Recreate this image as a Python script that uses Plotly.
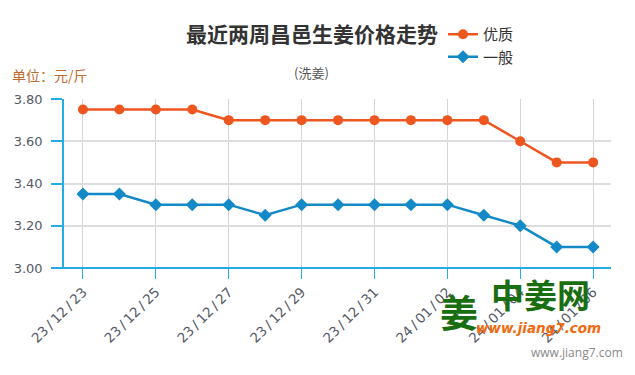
import plotly.graph_objects as go

dates = ["23/12/23", "23/12/24", "23/12/25", "23/12/26", "23/12/27", "23/12/28", "23/12/29",
         "23/12/30", "23/12/31", "24/01/01", "24/01/02", "24/01/03", "24/01/04", "24/01/05", "24/01/06"]
premium = [3.75, 3.75, 3.75, 3.75, 3.70, 3.70, 3.70, 3.70, 3.70, 3.70, 3.70, 3.70, 3.60, 3.50, 3.50]
ordinary = [3.35, 3.35, 3.30, 3.30, 3.30, 3.25, 3.30, 3.30, 3.30, 3.30, 3.30, 3.25, 3.20, 3.10, 3.10]
y_ticks = [3.0, 3.2, 3.4, 3.6, 3.8]

idx = list(range(len(dates)))
tick_idx = idx[::2]
TS = "\u2009"
tick_txt = [dates[i].replace("/", TS + "/" + TS) for i in tick_idx]

ORANGE = "#ee5620"
BLUE = "#1489c8"
AXIS = "#25ade3"
FONT = "Noto Sans CJK SC, Open Sans, sans-serif"
TICKFONT = "DejaVu Sans, sans-serif"
OFF = 8  # page body offset

fig = go.Figure()
fig.add_trace(go.Scatter(x=idx, y=premium, name="优质", mode="lines+markers",
                         line=dict(color=ORANGE, width=2.5),
                         marker=dict(symbol="circle", size=10, color=ORANGE)))
fig.add_trace(go.Scatter(x=idx, y=ordinary, name="一般", mode="lines+markers",
                         line=dict(color=BLUE, width=2.5),
                         marker=dict(symbol="diamond", size=10, color=BLUE)))

fig.update_layout(
    width=635, height=375,
    margin=dict(l=64 - OFF, r=24 + OFF, t=99 - OFF, b=107 + OFF, autoexpand=False),
    paper_bgcolor="white", plot_bgcolor="white",
    font=dict(family=FONT, color="#555555"),
    showlegend=True,
    legend=dict(x=(443 - OFF) / 635, y=1 - (18 - OFF) / 375, xanchor="left", yanchor="top",
                xref="container", yref="container",
                font=dict(size=15, color="#333333"), bgcolor="rgba(0,0,0,0)",
                itemwidth=30, tracegroupgap=0),
    title=dict(text="<b>最近两周昌邑生姜价格走势</b>", x=(312 - OFF) / 635, xanchor="center",
               y=1 - (35 - OFF) / 375, yanchor="middle", xref="container", yref="container",
               font=dict(size=21, color="#333333", family=FONT)),
    xaxis=dict(range=[-0.52, 14.49], tickmode="array", tickvals=tick_idx, ticktext=tick_txt,
               tickangle=-45, showgrid=True, gridcolor="#d4d4d4", gridwidth=1,
               showline=False, zeroline=False, ticks="outside", ticklen=10,
               tickcolor=AXIS, tickwidth=1,
               tickfont=dict(size=13.5, color="#555a66", family=TICKFONT)),
    yaxis=dict(range=[3.0, 3.8], tickmode="array", tickvals=y_ticks,
               ticktext=[f"{v:.2f}" for v in y_ticks],
               showgrid=True, gridcolor="#dddddd", gridwidth=1.5,
               showline=True, linecolor=AXIS, linewidth=1.5, zeroline=False,
               ticks="outside", ticklen=11, tickcolor=AXIS, tickwidth=1.5,
               ticklabelstandoff=6,
               tickfont=dict(size=13, color="#555a66", family=TICKFONT)),
)

# x axis baseline extending to the left of the y axis
fig.add_shape(type="line", xref="paper", yref="paper", x0=-11 / 547, x1=1.0, y0=0, y1=0,
              line=dict(color=AXIS, width=2), layer="above")

fig.add_annotation(text="(洗姜)", xref="paper", yref="paper", x=(311 - 64) / 547,
                   y=1 + (99 - 72) / 169, showarrow=False, xanchor="center", yanchor="middle",
                   font=dict(size=13, color="#555555"))
fig.add_annotation(text="单位：元/斤", xref="paper", yref="paper", x=(10 - 64) / 547,
                   y=1 + (99 - 75) / 169, showarrow=False, xanchor="left", yanchor="middle",
                   font=dict(size=14, color="#c06a2c"))

# watermark logo
fig.add_annotation(text="<b>姜</b>", xref="paper", yref="paper", x=(459 - 64) / 547,
                   y=-(310 - 268) / 169, showarrow=False, xanchor="center", yanchor="middle",
                   font=dict(size=38, color="#1a6e12"))
fig.add_annotation(text="<b>中姜网</b>", xref="paper", yref="paper", x=(540 - 64) / 547,
                   y=-(294 - 268) / 169, showarrow=False, xanchor="center", yanchor="middle",
                   font=dict(size=33, color="#1a6e12"))
fig.add_annotation(text="<b><i>www.jiang7.com</i></b>", xref="paper", yref="paper",
                   x=(538 - 64) / 547, y=-(328 - 268) / 169, showarrow=False,
                   xanchor="center", yanchor="middle",
                   font=dict(size=13.5, color="#f26a10", family="DejaVu Sans"))
fig.add_annotation(text="www.jiang7.com", xref="paper", yref="paper",
                   x=(625 - 64) / 547, y=-(352 - 268) / 169, showarrow=False,
                   xanchor="right", yanchor="middle",
                   font=dict(size=12, color="#888888", family="Open Sans"))

fig.write_html("out.html")
